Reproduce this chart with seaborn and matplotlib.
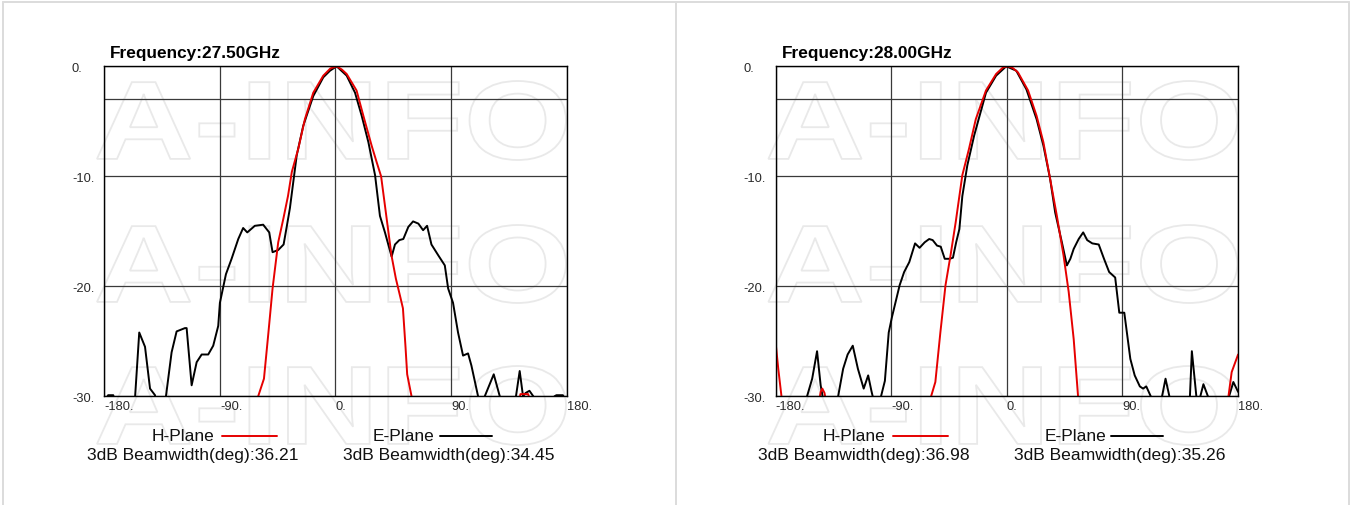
import matplotlib
matplotlib.use("Agg")
import matplotlib.pyplot as plt
import seaborn as sns
from matplotlib.textpath import TextPath
from matplotlib.patches import PathPatch
from matplotlib.font_manager import FontProperties
from matplotlib.lines import Line2D
from matplotlib.transforms import Affine2D

# ---------------- data ----------------
freq_titles = ["Frequency:27.50GHz", "Frequency:28.00GHz"]
h_beamwidth = ["36.21", "36.98"]
e_beamwidth = ["34.45", "35.26"]
x_ticks = [-180, -90, 0, 90, 180]
x_tick_labels = ["-180.", "-90.", "0.", "90.", "180."]
y_ticks = [0, -10, -20, -30]
y_tick_labels = ["0.", "-10.", "-20.", "-30."]
ref_levels_db = [-3]

# 27.50 GHz  E-plane (black)
e1_angle = [-180, -177, -173, -170, -165, -158, -156, -152.8, -148.3, -144.4, -140.5, -138, -134, -132,
            -127.6, -123.7, -117.2, -115.9, -112, -108.1, -104.2, -99.1, -95.2, -91.3, -90, -85.3, -80.9,
            -75.7, -71.9, -68.7, -62.8, -56.3, -51.6, -49, -44.6, -40.4, -38, -35.5, -30.2, -25.1, -17.3,
            -9.5, -4.3, 0.9, 8.7, 15.2, 20.4, 25.6, 30.8, 34.6, 38.5, 43.7, 46.3, 49.7, 52.8, 56.7, 60.4,
            64.5, 68.2, 71.3, 74.7, 80.1, 85.1, 87.7, 91.5, 95.4, 99.3, 103.2, 105.8, 111, 113.5, 116.2,
            123.2, 127.9, 131, 137, 140.5, 143.4, 146, 148, 151, 154, 157, 166, 170.5, 172, 177, 179, 180]
e1_db = [-30.5, -29.9, -29.9, -31.5, -35, -33, -30, -24.2, -25.5, -29.3, -29.9, -33, -33, -30,
         -26, -24.1, -23.8, -23.8, -29, -26.9, -26.2, -26.2, -25.4, -23.6, -21.5, -18.9, -17.5,
         -15.7, -14.7, -15.1, -14.5, -14.4, -15.1, -16.9, -16.7, -16.2, -14.6, -12.9, -8.1, -5.4, -2.7,
         -1.0, -0.4, 0, -0.85, -2.4, -4.5, -6.9, -9.9, -13.6, -15.1, -17.3, -16.2, -15.8, -15.7, -14.6, -14.1,
         -14.3, -14.9, -14.5, -16.2, -17.2, -18.1, -20.2, -21.5, -24.2, -26.3, -26.1, -27.2, -30, -32, -30,
         -28.0, -30, -32, -32, -30, -27.7, -30, -29.7, -29.5, -30, -31, -31, -30, -29.9, -29.9, -30.3, -30.5]

# 27.50 GHz  H-plane (red)
h1_angle = [-180, -120, -80, -66, -60.2, -55.7, -52.3, -49, -44.6, -40.5, -37, -34, -29, -23.8, -17.3,
            -9.5, -4, 0.9, 5, 8.7, 16.4, 21.7, 28.1, 32, 35.5, 40, 43.6, 47, 50.5, 52.5, 54.5, 55.8,
            59.2, 62, 100, 138, 142, 144, 150, 153, 160, 180]
h1_db = [-40, -40, -40, -32.5, -30, -28.4, -24.3, -20.2, -16, -13.8, -11.8, -9.6, -7.5, -4.8, -2.4,
         -0.85, -0.2, 0, -0.3, -0.7, -2.2, -4.5, -7.2, -8.7, -10.0, -14.0, -17.2, -19.3, -21.0, -22.0, -25.5, -28.0,
         -30, -33, -40, -40, -31, -29.8, -29.8, -31, -40, -40]

# 28.00 GHz  E-plane (black)
e2_angle = [-180, -165, -158, -155.6, -151.6, -147.8, -145, -143.5, -140, -134, -131.4, -127.5, -124, -120,
            -116, -111.5, -108, -105.5, -103.5, -100, -98, -95, -92, -89.5, -83.5, -80, -76, -71.5, -68,
            -64, -60.5, -57.8, -54.4, -51.5, -48.4, -44.5, -42, -39.5, -37, -34.7, -30.8, -25.5, -16.3,
            -8.4, -0.5, 7.3, 15.2, 23.1, 28.4, 33.6, 37.6, 42.8, 46.7, 49.4, 52, 55.9, 59.4, 62.5, 66.5,
            71.5, 75.6, 79.6, 84.3, 85.6, 87.5, 91.4, 96.1, 99.5, 103.5, 106, 108.5, 112, 116, 120.8, 123.5,
            126.5, 130, 140, 142.5, 144, 147.5, 149.5, 153, 156.5, 160, 170, 173, 176.3, 180]
e2_db = [-34, -36, -32, -30, -28.4, -25.9, -29, -30, -34, -34, -30, -27.5, -26.2, -25.4,
         -27.5, -29.3, -28.1, -29.5, -30.5, -31, -30, -28.6, -24.2, -22.8, -19.9, -18.7, -17.8, -16.1, -16.5,
         -16, -15.7, -15.8, -16.3, -16.4, -17.5, -17.5, -17.4, -16, -14.8, -11.8, -9, -6.3, -2.4,
         -0.85, 0, -0.4, -2.1, -4.8, -7.2, -10.2, -13.3, -16, -18.1, -17.5, -16.6, -15.7, -15.1, -15.8, -16.1,
         -16.2, -17.5, -18.7, -19.2, -20.5, -22.4, -22.4, -26.6, -28.1, -29.1, -29.3, -29.1, -30, -33, -30, -28.4,
         -30, -34, -34, -30, -25.9, -30, -30.5, -28.9, -30, -33, -33, -30, -28.7, -29.6]

# 28.00 GHz  H-plane (red)
h2_angle = [-180, -178, -175.5, -173, -150, -147, -145, -143.7, -142, -140, -135, -70, -62, -59,
            -55.7, -51.8, -47.8, -43.9, -39.9, -34.7, -29.5, -24.2, -16.3, -8.4, -3, 0.8, 4.5, 8.6,
            16.5, 23.1, 28.4, 33.6, 38.9, 44.1, 48.1, 52, 55.4, 58, 80, 165, 170, 172.5, 175, 180]
h2_db = [-25.2, -27.5, -30, -36, -40, -31, -29.6, -29.3, -29.7, -31, -40, -40, -33, -30,
         -28.7, -24.2, -19.9, -17.2, -14.2, -9.9, -7.5, -4.8, -2.2, -0.7, -0.1, 0, -0.15, -0.55,
         -2.2, -4.5, -6.9, -10.2, -13.6, -17.2, -20.5, -24.8, -30, -34, -40, -40, -34, -30, -27.8, -26.2]

panels = [
    (freq_titles[0], e1_angle, e1_db, h1_angle, h1_db, h_beamwidth[0], e_beamwidth[0]),
    (freq_titles[1], e2_angle, e2_db, h2_angle, h2_db, h_beamwidth[1], e_beamwidth[1]),
]

# ---------------- style / layout ----------------
sns.set_theme(style="white")
plt.rcParams["font.family"] = ["Liberation Sans", "DejaVu Sans"]

W, H = 1356, 506
fig = plt.figure(figsize=(W / 100, H / 100), dpi=100)
fig.patch.set_facecolor("white")

def fx(x):
    return x / W

def fy(y):
    return 1 - y / H

RED = "#e60000"
GRID = "#3a3a3a"
WM = "#e9e9e9"
BORDER = "#dcdcdc"
TXT = "#111111"

# panel borders
for xs, ys in [((3, 1349), (3.3, 3.3)), ((3, 3), (3.3, 506)), ((676, 676), (3.3, 506)), ((1348.5, 1348.5), (3.3, 506))]:
    fig.add_artist(Line2D([fx(xs[0]), fx(xs[1])], [fy(ys[0]), fy(ys[1])], transform=fig.transFigure,
                          color=BORDER, lw=1.4, zorder=-10))

# watermark text
fp_wm = FontProperties(family="Liberation Sans", weight="bold")
tp = TextPath((0, 0), "A-INFO", size=100, prop=fp_wm)
bb = tp.get_extents()

def add_watermark(x0, x1, ytop, ybot):
    sx = (x1 - x0) / bb.width
    sy = (ybot - ytop) / bb.height
    tr = (Affine2D().translate(-bb.x0, -bb.y0).scale(sx, sy).translate(x0, H - ybot)
          .scale(1 / W, 1 / H) + fig.transFigure)
    fig.add_artist(PathPatch(tp, facecolor="none", edgecolor=WM, lw=1.3, transform=tr, zorder=-5))

offset = 671.4
for i, (title, ea, ed, ha_, hd, hbw, ebw) in enumerate(panels):
    dx = i * offset
    x0, x1 = 104.3 + dx, 566.7 + dx
    y0, y1 = 67.3, 397.3

    for (ryt, ryb) in [(82, 161), (226, 304), (367, 446)]:
        add_watermark(97 + dx, 566 + dx, ryt, ryb)

    ax = fig.add_axes([fx(x0), fy(y1), (x1 - x0) / W, (y1 - y0) / H])
    ax.set_facecolor("none")

    sns.lineplot(x=ea, y=ed, ax=ax, color="black", lw=1.4, estimator=None, sort=False, legend=False)
    sns.lineplot(x=ha_, y=hd, ax=ax, color=RED, lw=1.4, estimator=None, sort=False, legend=False)

    ax.set_xlim(-180, 180)
    ax.set_ylim(-30, 0)
    ax.set_xlabel("")
    ax.set_ylabel("")

    ax.set_xticks(x_ticks, labels=x_tick_labels)
    ax.set_yticks(y_ticks, labels=y_tick_labels)
    ax.grid(True, color=GRID, lw=0.9)
    for lvl in ref_levels_db:
        ax.axhline(lvl, color=GRID, lw=0.9, zorder=0.5)
    ax.set_axisbelow(True)

    ax.tick_params(axis="both", length=0, labelsize=9.3, labelcolor="#2a2a2a")
    ax.tick_params(axis="x", pad=2.5)
    ax.tick_params(axis="y", pad=23.3)
    for lab in ax.get_xticklabels():
        lab.set_ha("left")
    for lab in ax.get_yticklabels():
        lab.set_ha("left")
        lab.set_va("center_baseline")

    for sp in ax.spines.values():
        sp.set_visible(True)
        sp.set_color("black")
        sp.set_linewidth(1.0)

    # title
    fig.text(fx(110 + dx), fy(53.5), title, ha="left", va="center", fontsize=12.4,
             fontweight="bold", color="black")

    # legend block
    fig.text(fx(151.7 + dx), fy(436.5), "H-Plane", ha="left", va="center", fontsize=12.5, color=TXT)
    fig.add_artist(Line2D([fx(222 + dx), fx(277 + dx)], [fy(436.5), fy(436.5)], transform=fig.transFigure,
                          color=RED, lw=1.4))
    fig.text(fx(373 + dx), fy(436.5), "E-Plane", ha="left", va="center", fontsize=12.5, color=TXT)
    fig.add_artist(Line2D([fx(440 + dx), fx(492 + dx)], [fy(436.5), fy(436.5)], transform=fig.transFigure,
                          color="black", lw=1.4))
    fig.text(fx(86.7 + dx), fy(455.5), "3dB Beamwidth(deg):" + hbw, ha="left", va="center",
             fontsize=12.6, color=TXT)
    fig.text(fx(343 + dx), fy(455.5), "3dB Beamwidth(deg):" + ebw, ha="left", va="center",
             fontsize=12.6, color=TXT)

fig.savefig("out.png", dpi=100, facecolor="white")
